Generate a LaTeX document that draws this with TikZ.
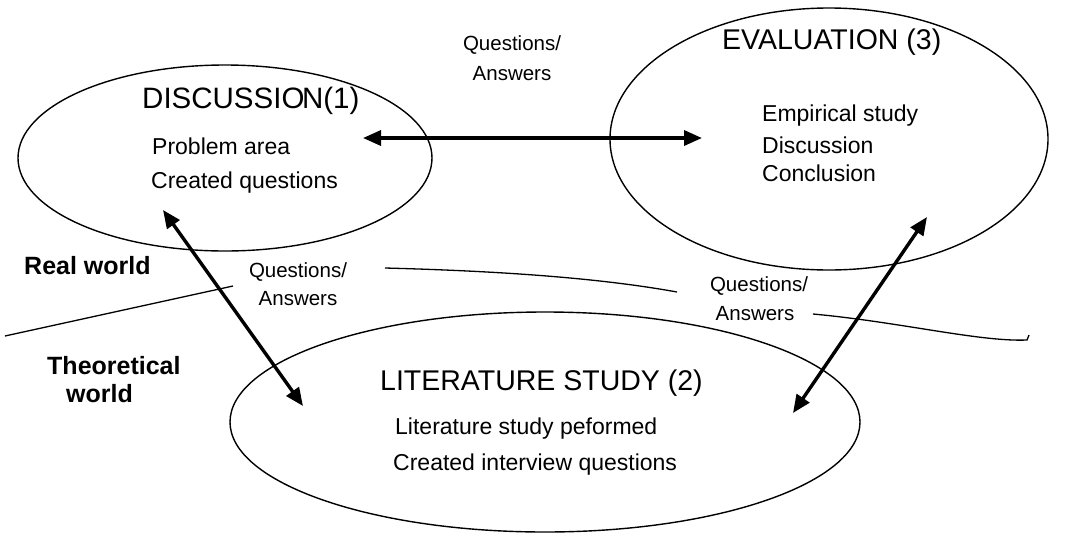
\documentclass[tikz,border=0pt]{standalone}
\usepackage{fontspec}
\setmainfont{Liberation Sans}
\usetikzlibrary{shapes.geometric,arrows.meta}
\begin{document}
\begin{tikzpicture}[x=1pt,y=-1pt,
  field/.style={draw,ellipse,line width=1.4pt,inner sep=0pt},
  heading/.style={font=\fontsize{28.5}{32}\selectfont,inner sep=0pt,anchor=west},
  item/.style={font=\fontsize{23}{27}\selectfont,inner sep=0pt,anchor=west},
  qa/.style={font=\fontsize{20.5}{24}\selectfont,inner sep=0pt},
  worldlabel/.style={font=\fontsize{25}{29}\selectfont\bfseries,inner sep=0pt,anchor=west},
  border/.style={line width=1.3pt},
  link/.style={line width=3.4pt,{Triangle[length=18pt,width=15pt]}-{Triangle[length=18pt,width=15pt]}}]
\useasboundingbox (0,0) rectangle (1085,539);

% the three phases
\node[field,minimum width=414pt,minimum height=186pt] (disc) at (225,158) {};
\node[field,minimum width=438pt,minimum height=262pt] (eval) at (829,139) {};
\node[field,minimum width=630pt,minimum height=220pt] (lit) at (545,422) {};

\node[heading,font=\fontsize{29.5}{33}\selectfont] (discT) at (142,101) {DISCUSSIO\kern-0.08em N(1)};
\node[item] (disc1) at (152,146) {Problem area};
\node[item] (disc2) at (151,183) {Created questions};

\node[heading] (evalT) at (722,42) {EVALUATION (3)};
\node[item] (eval1) at (762,116) {Empirical study};
\node[item] (eval2) at (762,145) {Discussion};
\node[item] (eval3) at (762,173) {Conclusion};

\node[heading] (litT) at (380,383) {LITERATURE STUDY (2)};
\node[item] (lit1) at (395,429) {Literature study peformed};
\node[item] (lit2) at (393,465) {Created interview questions};

% question/answer labels
\node[qa] (qa1a) at (512,45) {Questions/};
\node[qa] (qa1b) at (512,74) {Answers};
\node[qa] (qa2a) at (298,272) {Questions/};
\node[qa] (qa2b) at (298,299) {Answers};
\node[qa] (qa3a) at (759,286) {Questions/};
\node[qa] (qa3b) at (755,314) {Answers};

% worlds
\node[worldlabel] (real) at (24,266) {Real world};
\node[worldlabel] (theo1) at (47,366) {Theoretical};
\node[worldlabel] (theo2) at (66,394) {world};

% boundary between the worlds
\coordinate (b1) at (5,336);
\coordinate (b2) at (233,286);
\coordinate (b3) at (385,268);
\coordinate (b4) at (677,292);
\coordinate (b5) at (813,314);
\coordinate (b6) at (1027,340);
\coordinate (b7) at (1029,335);
\draw[border] (b1) -- (b2);
\draw[border] (b3) .. controls (500,271) and (600,278) .. (b4);
\draw[border] (b5) .. controls (900,322) and (980,342) .. (b6) -- (b7);

% exchanges between phases
\coordinate (h1) at (363,138);
\coordinate (h2) at (702,138);
\coordinate (l1) at (163,210);
\coordinate (l2) at (303,406);
\coordinate (r1) at (927,217);
\coordinate (r2) at (793,413);
\draw[link] (h1) -- (h2);
\draw[link] (l1) -- (l2);
\draw[link] (r1) -- (r2);
\end{tikzpicture}
\end{document}
